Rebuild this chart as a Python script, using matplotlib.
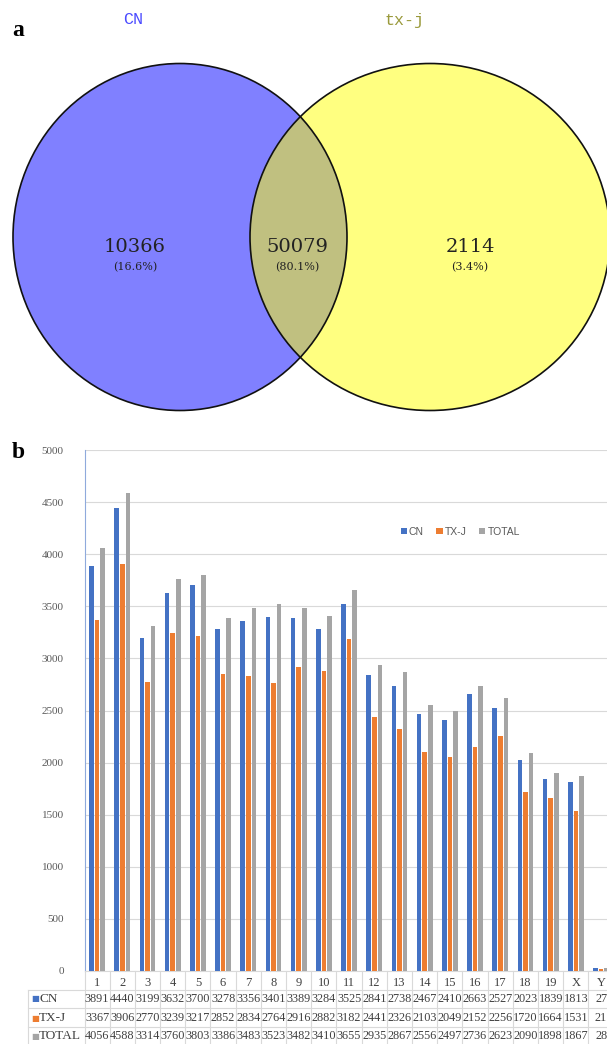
import numpy as np
import matplotlib
matplotlib.use("Agg")
from matplotlib import pyplot as plt
from matplotlib.patches import Ellipse
from matplotlib.lines import Line2D
import matplotlib.transforms as mtransforms

# venn data
venn_names = ["CN", "tx-j"]
venn_counts = [10366, 50079, 2114]   # only CN, both, only tx-j
venn_pcts = ["(16.6%)", "(80.1%)", "(3.4%)"]

# bar data per chromosome
chroms = [str(i) for i in range(1, 20)] + ["X", "Y"]
cn = [3891, 4440, 3199, 3632, 3700, 3278, 3356, 3401, 3389, 3284, 3525,
      2841, 2738, 2467, 2410, 2663, 2527, 2023, 1839, 1813, 27]
txj = [3367, 3906, 2770, 3239, 3217, 2852, 2834, 2764, 2916, 2882, 3182,
       2441, 2326, 2103, 2049, 2152, 2256, 1720, 1664, 1531, 21]
total = [4056, 4588, 3314, 3760, 3803, 3386, 3483, 3523, 3482, 3410, 3655,
         2935, 2867, 2556, 2497, 2736, 2623, 2090, 1898, 1867, 28]
series_names = ["CN", "TX-J", "TOTAL"]
series_colors = ["#4472C4", "#ED7D31", "#A5A5A5"]

W, H = 607, 1044
fig = plt.figure(figsize=(W / 100, H / 100), dpi=100)

# ---------- a: venn ----------
top_h = 430
axv = fig.add_axes([0, 1 - top_h / H, 1, top_h / H])
axv.set_xlim(0, W)
axv.set_ylim(top_h, 0)
axv.axis("off")

left = Ellipse((180, 237), 334, 347, facecolor="#8080FF", edgecolor="none")
right = Ellipse((430, 237), 360, 347, facecolor="#FFFF80", edgecolor="none")
axv.add_patch(left)
axv.add_patch(right)
# overlap: left circle clipped to the right one
mid = Ellipse((180, 237), 334, 347, facecolor="#C0C080", edgecolor="none")
axv.add_patch(mid)
mid.set_clip_path(right)
for c in [(180, 237, 334), (430, 237, 360)]:
    axv.add_patch(Ellipse((c[0], c[1]), c[2], 347, facecolor="none",
                          edgecolor="#111111", lw=1.2, clip_on=False))

axv.text(133, 20, venn_names[0], color="#4B4BFF", fontsize=12,
         family="Liberation Mono", ha="center", va="center")
axv.text(405, 20, venn_names[1], color="#9A9A3C", fontsize=12,
         family="Liberation Mono", ha="center", va="center")
for x, n, p in zip([135, 297, 470], venn_counts, venn_pcts):
    axv.text(x, 247, str(n), fontsize=14, family="DejaVu Serif",
             ha="center", va="center", color="#222222")
    axv.text(x, 267, p, fontsize=8, family="DejaVu Serif",
             ha="center", va="center", color="#222222")
axv.text(18, 31, "a", fontsize=17, fontweight="bold", family="Liberation Serif",
         ha="center", va="center")

# ---------- b: bars ----------
ax_l, ax_b, ax_t = 84.5, 971, 450
col_w = 25.2
ax = fig.add_axes([ax_l / W, (H - ax_b) / H, col_w * len(chroms) / W, (ax_b - ax_t) / H])
x = np.arange(len(chroms))
bw = 0.18
for i, (vals, name, col) in enumerate(zip([cn, txj, total], series_names, series_colors)):
    ax.bar(x + (i - 1) * 0.22, vals, width=bw, color=col, label=name, zorder=3)

ax.set_xlim(-0.5, len(chroms) - 0.5)
ax.set_ylim(0, 5000)
ax.set_yticks(np.arange(0, 5001, 500))
ax.set_xticks([])
ax.grid(axis="y", color="#D9D9D9", lw=0.8, zorder=0)
for s in ["top", "right"]:
    ax.spines[s].set_visible(False)
ax.spines["left"].set_color("#8FAADC")
ax.spines["bottom"].set_color("#D9D9D9")
ax.tick_params(axis="y", length=0, pad=15, labelsize=8, labelcolor="#595959")
for lab in ax.get_yticklabels():
    lab.set_family("Liberation Serif")

leg = ax.legend(loc="center", bbox_to_anchor=(0.71, 0.843), ncol=3, frameon=False,
                handlelength=0.6, handleheight=0.6, handletextpad=0.2,
                columnspacing=1.2, prop={"family": "Liberation Sans", "size": 7.5})
for t in leg.get_texts():
    t.set_color("#595959")

fig.text(18 / W, 1 - 452 / H, "b", fontsize=17, fontweight="bold",
         family="Liberation Serif", ha="center", va="center")

# data table below the axis
ph = ax_b - ax_t
def yfrac(py):
    return -(py - ax_b) / ph

trans = mtransforms.blended_transform_factory(ax.transData, ax.transAxes)
row_y = [983, 999, 1018, 1036]
for i, c in enumerate(chroms):
    ax.text(i, yfrac(row_y[0]), c, transform=trans, ha="center", va="center",
            fontsize=9, family="Liberation Serif", color="#404040", clip_on=False)
    for r, vals in enumerate([cn, txj, total]):
        ax.text(i, yfrac(row_y[r + 1]), str(vals[i]), transform=trans, ha="center",
                va="center", fontsize=8.8, family="Liberation Serif",
                color="#404040", clip_on=False)

# row headers
for r, (name, col) in enumerate(zip(series_names, series_colors)):
    fig.text(31 / W, 1 - row_y[r + 1] / H, "■", color=col, fontsize=6,
             family="DejaVu Sans", ha="left", va="center")
    fig.text(39 / W, 1 - row_y[r + 1] / H, name, color="#404040", fontsize=9.5,
             family="Liberation Serif", ha="left", va="center")

# table grid
gc = "#D9D9D9"
for i in range(len(chroms) + 1):
    ax.add_line(Line2D([i - 0.5, i - 0.5], [0, yfrac(H)], transform=trans,
                       color=gc, lw=0.8, clip_on=False))
for py in [990, 1008, 1027]:
    fig.add_artist(Line2D([28 / W, 1], [1 - py / H] * 2, color=gc, lw=0.8))
fig.add_artist(Line2D([28 / W, 28 / W], [1 - 990 / H, 0], color=gc, lw=0.8))

fig.savefig("out.png", dpi=100)
